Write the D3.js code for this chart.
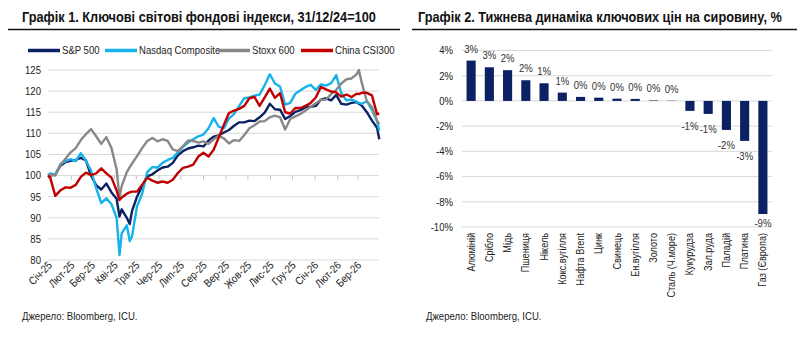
<!DOCTYPE html>
<html>
<head>
<meta charset="utf-8">
<script src="https://cdn.jsdelivr.net/npm/d3@7"></script>
<style>
  body { margin: 0; background: #fff; }
  svg { font-family: "Liberation Sans", Arial, sans-serif; }
</style>
</head>
<body>
<div id="chart"></div>
<script>
// ---- chart 1 data: indices, 31/12/24 = 100 ----
const dates = [
  "2024-12-31",
  "2025-01-03", "2025-01-10", "2025-01-17", "2025-01-24", "2025-01-31", "2025-02-07", "2025-02-14",
  "2025-02-21", "2025-02-28", "2025-03-07", "2025-03-14", "2025-03-21", "2025-03-28", "2025-04-04",
  "2025-04-08", "2025-04-11", "2025-04-18", "2025-04-22", "2025-04-25", "2025-05-02", "2025-05-09",
  "2025-05-16", "2025-05-23", "2025-05-30", "2025-06-06", "2025-06-13", "2025-06-20", "2025-06-27",
  "2025-07-04", "2025-07-11", "2025-07-18", "2025-07-25", "2025-08-01", "2025-08-08", "2025-08-15",
  "2025-08-22", "2025-08-29", "2025-09-05", "2025-09-12", "2025-09-19", "2025-09-26", "2025-10-03",
  "2025-10-10", "2025-10-17", "2025-10-24", "2025-10-31", "2025-11-07", "2025-11-14", "2025-11-21",
  "2025-11-28", "2025-12-05", "2025-12-12", "2025-12-19", "2025-12-26", "2026-01-02", "2026-01-09",
  "2026-01-16", "2026-01-23", "2026-01-30", "2026-02-06", "2026-02-13", "2026-02-20", "2026-02-27",
  "2026-03-02", "2026-03-06", "2026-03-13", "2026-03-20", "2026-03-27", "2026-03-30"
];
const sp500 = [
  100,
  100, 100.3, 102.3, 103.2, 103.5, 103.7, 104.2, 103.6, 100, 97.7, 96.7, 98.1, 96, 94.5,
  90.3, 92, 90, 88.5, 91.5, 95, 97.5,
  99.8, 100.3, 101.2, 101.9, 102.1, 103, 104.8,
  105.8, 106.4, 106.7, 107.1, 106.9, 108.3, 109.2,
  109.5, 110.2, 110.8, 111.8, 112.6, 112.6, 113,
  112.9, 113.8, 114.9, 117, 115.7, 115.6, 113.4,
  114.1, 115.1, 115.5, 116.2, 116.3, 116.5, 118,
  118.3, 117.8, 119.1, 117, 116.8, 117.2, 117.4,
  117, 116.6, 115, 113, 111.3, 108.6
];
const nasdaq = [
  100,
  100.5, 100.2, 102.7, 103.4, 103.9, 103.4, 105.3, 103.5, 101.2, 97, 93.5, 94.6, 93.2, 90,
  81.2, 86.3, 88.2, 84.5, 85.5, 92.7, 95.7,
  100.8, 102, 101.9, 103, 103.7, 104.2, 105.5,
  106.8, 107.8, 108.6, 109.3, 109.7, 111.2, 113.6,
  111.6, 111.2, 113.5, 114.6, 116.5, 118.3, 118.5,
  118.9, 119.2, 121.4, 124, 121.8, 121.1, 116.8,
  117.2, 119.4, 120.2, 121, 121.5, 120.3, 121.6,
  121.3, 121.9, 123.8, 119.5, 117.8, 118, 117.5,
  117.2, 117, 117.6, 115.5, 112.8, 110.6
];
const stoxx600 = [
  100,
  100.2, 100, 102.5, 104, 105.5, 106.5, 108.4, 109.8, 111, 109.3, 107.5, 109.1, 106.5, 101.5,
  94.8, 97.5, 100.8, 102, 102.8, 104.6, 106.5,
  108.2, 108.9, 108.1, 108.6, 108.2, 106.2, 105.8,
  107, 108.3, 108.2, 107.8, 108.1, 107.5, 108.6,
  109.4, 108.8, 107.6, 108.4, 108.2, 109.6, 111.2,
  111.9, 112.8, 112.9, 113.8, 114.2, 113.8, 110.9,
  113.4, 114, 114.6, 115.4, 116.3, 117.1, 117.9,
  118, 119.3, 120.3, 121.8, 122.8, 123, 124,
  125, 122, 117.6, 116.2, 113, 112.2
];
const csi300 = [
  100,
  99.5, 95.2, 96.5, 97.2, 97.1, 97.8, 99.7, 100.7, 100.1, 100.5, 101.7, 100.5, 99.5, 96.5,
  94.2, 94.8, 95.7, 96, 96.2, 96.2, 97.8,
  99.5, 98.8, 98.3, 98.6, 98.3, 99, 100.6,
  101.8, 102.1, 102.6, 104.5, 105.4, 104.5, 106.1,
  109, 112, 114.8, 115.4, 115.8, 116.5, 118.3,
  118.6, 116.5, 118.5, 120.6, 118.4, 119.5, 115,
  114.7, 116, 116, 116.5, 117.2, 118.5, 121,
  120.4, 119.9, 119.7, 118.7, 119.2, 118.6, 119.4,
  119.3, 119.6, 119.6, 119, 114.5, 114.7
];
const seriesNames = ["S&P 500", "Nasdaq Composite", "Stoxx 600", "China CSI300"];
const indexTicks = [80, 85, 90, 95, 100, 105, 110, 115, 120, 125];
const monthLabels = ["Січ-25", "Лют-25", "Бер-25", "Кві-25", "Тра-25", "Чер-25", "Лип-25", "Сер-25",
  "Вер-25", "Жов-25", "Лис-25", "Гру-25", "Січ-26", "Лют-26", "Бер-26"];

// ---- chart 2 data: weekly change, % ----
const commodities = ["Алюміній", "Срібло", "Мідь", "Пшениця", "Нікель", "Кокс.вугілля", "Нафта Brent",
  "Цинк", "Свинець", "Ен.вугілля", "Золото", "Сталь (Ч.море)", "Кукурудза", "Зал.руда", "Паладій",
  "Платина", "Газ (Європа)"];
const weeklyChange = [3.2, 2.67, 2.44, 1.64, 1.4, 0.66, 0.32, 0.26, 0.18, 0.16, 0.04, 0.02,
  -0.79, -1.03, -2.3, -3.17, -8.97];
const pctTicks = [-10, -8, -6, -4, -2, 0, 2, 4];

const W = 797, H = 345;
const svg = d3.select("#chart").append("svg")
  .attr("width", W)
  .attr("height", H);

const gridColor = "#d9d9d9";
const textColor = "#222";
const SX = 0.87;      // the source uses a narrow face, squeeze Liberation Sans
const SXT = 0.91;

// place text at x,y squeezed horizontally (optionally rotated)
function tf(x, y, sx, rot) {
  return "translate(" + x + "," + y + ")" + (rot ? " rotate(" + rot + ")" : "") + " scale(" + sx + ",1)";
}

// ================= Chart 1 =================
svg.append("text")
  .attr("transform", tf(22, 22, SXT))
  .attr("font-size", 14).attr("font-weight", "bold").attr("fill", "#111")
  .text("Графік 1. Ключові світові фондові індекси, 31/12/24=100");
svg.append("line")
  .attr("x1", 8).attr("x2", 400).attr("y1", 29.5).attr("y2", 29.5)
  .attr("stroke", "#111").attr("stroke-width", 1.3);

let parse = d3.timeParse("%Y-%m-%d");
let dateValues = dates.map(parse);

let x1 = d3.scaleTime()
  .domain([parse("2024-12-31"), parse("2026-03-31")])
  .range([48, 380]);
let y1 = d3.scaleLinear().domain([80, 125]).range([260, 70]);

let g1 = svg.append("g");

// gridlines
g1.selectAll(".grid1").data(indexTicks).enter().append("line")
  .attr("x1", 48).attr("x2", 379)
  .attr("y1", d => y1(d)).attr("y2", d => y1(d))
  .attr("stroke", gridColor).attr("stroke-width", 1);

// y labels
g1.selectAll(".ylab1").data(indexTicks).enter().append("text")
  .attr("transform", d => tf(41, y1(d), SX))
  .attr("dy", "0.35em")
  .attr("text-anchor", "end").attr("font-size", 11).attr("fill", textColor)
  .text(d => d);

// month ticks (axis crosses at 100)
let monthDates = d3.timeMonth.range(parse("2025-01-01"), parse("2026-03-02"));
g1.selectAll(".mtick").data(monthDates).enter().append("line")
  .attr("x1", d => x1(d)).attr("x2", d => x1(d))
  .attr("y1", y1(100)).attr("y2", y1(100) + 4)
  .attr("stroke", "#bfbfbf").attr("stroke-width", 1);

g1.selectAll(".mlab").data(monthDates).enter().append("text")
  .attr("transform", d => tf(x1(d) + 4, 266, SX, -45))
  .attr("text-anchor", "end").attr("font-size", 11).attr("fill", textColor)
  .text((d, i) => monthLabels[i]);

let colors = ["#0b2163", "#16b2ea", "#888888", "#c00000"];
let allSeries = [sp500, nasdaq, stoxx600, csi300];

let line = d3.line()
  .x(d => x1(d[0]))
  .y(d => y1(d[1]));

allSeries.forEach(function (vals, k) {
  g1.append("path")
    .datum(vals.map((v, i) => [dateValues[i], v]))
    .attr("fill", "none")
    .attr("stroke", colors[k])
    .attr("stroke-width", 2.4)
    .attr("stroke-linejoin", "round")
    .attr("d", line);
});

// legend
let legendX = [28, 105, 218, 301];
let legend = svg.append("g");
seriesNames.forEach(function (name, k) {
  legend.append("line")
    .attr("x1", legendX[k]).attr("x2", legendX[k] + 32)
    .attr("y1", 50.5).attr("y2", 50.5)
    .attr("stroke", colors[k]).attr("stroke-width", 3.5);
  legend.append("text")
    .attr("transform", tf(legendX[k] + 34, 50.5, SX))
    .attr("dy", "0.35em")
    .attr("font-size", 11).attr("fill", textColor)
    .text(name);
});

svg.append("text")
  .attr("transform", tf(22, 320, SX))
  .attr("font-size", 11).attr("fill", textColor)
  .text("Джерело: Bloomberg, ICU.");

// ================= Chart 2 =================
svg.append("text")
  .attr("transform", tf(418, 22, SXT))
  .attr("font-size", 14).attr("font-weight", "bold").attr("fill", "#111")
  .text("Графік 2. Тижнева динаміка ключових цін на сировину, %");
svg.append("line")
  .attr("x1", 412).attr("x2", 797).attr("y1", 29.5).attr("y2", 29.5)
  .attr("stroke", "#111").attr("stroke-width", 1.3);

let x2 = d3.scaleBand().domain(commodities).range([462, 772]).paddingInner(0.5).paddingOuter(0.25);
let y2 = d3.scaleLinear().domain([-10, 4]).range([227, 50.5]);

let g2 = svg.append("g");

g2.selectAll(".grid2").data(pctTicks).enter().append("line")
  .attr("x1", 462).attr("x2", 772)
  .attr("y1", d => y2(d)).attr("y2", d => y2(d))
  .attr("stroke", gridColor).attr("stroke-width", 1);

g2.selectAll(".ylab2").data(pctTicks).enter().append("text")
  .attr("transform", d => tf(453, y2(d), SX))
  .attr("dy", "0.35em")
  .attr("text-anchor", "end").attr("font-size", 11).attr("fill", textColor)
  .text(d => d + "%");

g2.selectAll(".bar").data(weeklyChange).enter().append("rect")
  .attr("x", (d, i) => x2(commodities[i]))
  .attr("width", x2.bandwidth())
  .attr("y", d => y2(Math.max(0, d)))
  .attr("height", d => Math.abs(y2(d) - y2(0)))
  .attr("fill", "#0b2163");

g2.selectAll(".vlab").data(weeklyChange).enter().append("text")
  .attr("transform", (d, i) => tf(x2(commodities[i]) + x2.bandwidth() / 2,
    d >= 0 ? y2(d) - 8 : Math.min(y2(d) + 19, 227), SX))
  .attr("text-anchor", "middle").attr("font-size", 11).attr("fill", "#333")
  .text(d => Math.round(d) + "%");

g2.selectAll(".clab").data(commodities).enter().append("text")
  .attr("transform", d => tf(x2(d) + x2.bandwidth() / 2 + 3.5, 233, SX, -90))
  .attr("text-anchor", "end").attr("font-size", 10.5).attr("fill", textColor)
  .text(d => d);

svg.append("text")
  .attr("transform", tf(426, 320, SX))
  .attr("font-size", 11).attr("fill", textColor)
  .text("Джерело: Bloomberg, ICU.");
</script>
</body>
</html>
